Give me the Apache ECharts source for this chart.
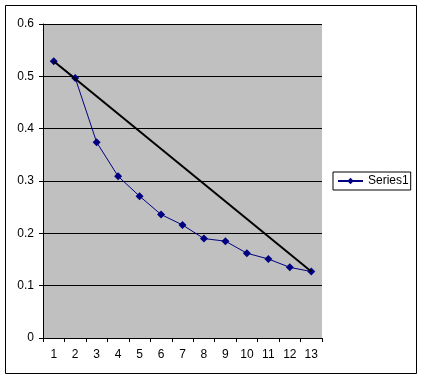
<!DOCTYPE html>
<html><head><meta charset="utf-8">
<script src="https://cdn.jsdelivr.net/npm/echarts@6/dist/echarts.min.js"></script>
<style>html,body{margin:0;padding:0;background:#fff}#c{width:421px;height:379px}</style>
</head><body><div id="c"></div>
<script>
const categories = ['1','2','3','4','5','6','7','8','9','10','11','12','13'];
const series1 = [0.529, 0.497, 0.374, 0.309, 0.271, 0.236, 0.216, 0.19, 0.185, 0.162, 0.151, 0.135, 0.127];
const trendLine = [0.529, null, null, null, null, null, null, null, null, null, null, null, 0.127];
const yTicks = { min: 0, max: 0.6, interval: 0.1 };

const chart = echarts.init(document.getElementById('c'), null, {renderer: 'canvas'});
const font = 'Liberation Sans, Arial, sans-serif';
chart.setOption({
  animation: false,
  backgroundColor: '#fff',
  graphic: [{
    type: 'rect', shape: {x: 5.5, y: 5.5, width: 411, height: 368},
    style: {fill: null, stroke: '#000', lineWidth: 1}, silent: true, z: -1
  }],
  grid: {left: 43, top: 24, width: 279, height: 314, show: true, backgroundColor: '#C0C0C0', borderWidth: 0},
  legend: {
    data: ['Series1'], left: 333, top: 172, orient: 'vertical',
    borderColor: '#000', borderWidth: 1, padding: [3, 2, 3, 4],
    itemWidth: 25, itemHeight: 8, itemGap: 0,
    textStyle: {fontFamily: font, fontSize: 12, color: '#000'}
  },
  xAxis: {
    type: 'category', data: categories, boundaryGap: true,
    axisLine: {lineStyle: {color: '#000', width: 1}},
    axisTick: {show: true, length: 4, lineStyle: {color: '#000'}, alignWithLabel: false},
    axisLabel: {fontFamily: font, fontSize: 12, color: '#000', margin: 11, interval: 0},
    splitLine: {show: false}
  },
  yAxis: {
    type: 'value', min: yTicks.min, max: yTicks.max, interval: yTicks.interval,
    axisLine: {show: true, lineStyle: {color: '#000', width: 1}},
    axisTick: {show: true, length: 4, lineStyle: {color: '#000'}},
    axisLabel: {fontFamily: font, fontSize: 12, color: '#000', margin: 9,
      formatter: v => (Math.round(v*10)/10).toString()},
    splitLine: {show: true, lineStyle: {color: '#000', width: 1}}
  },
  series: [
    {
      name: 'Series1', type: 'line', data: series1,
      symbol: 'diamond', symbolSize: 8,
      lineStyle: {color: '#000080', width: 1},
      itemStyle: {color: '#000080'}, z: 3
    },
    {
      name: 'trend', type: 'line', data: trendLine, connectNulls: true,
      symbol: 'none', lineStyle: {color: '#000', width: 2}, z: 4
    }
  ]
});
</script></body></html>
